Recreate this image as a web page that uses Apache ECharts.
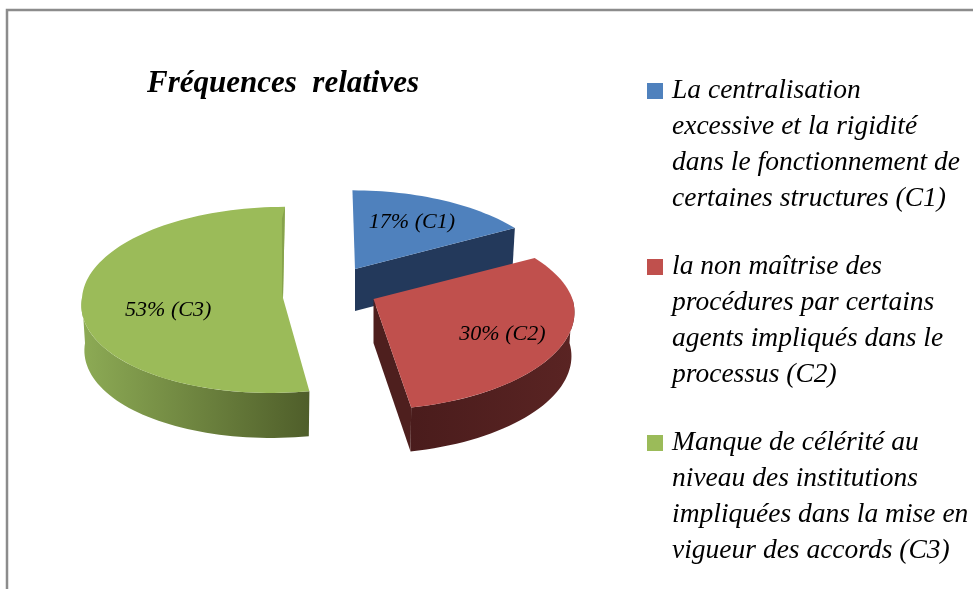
<!DOCTYPE html>
<html>
<head>
<meta charset="utf-8">
<style>
  html, body { margin: 0; padding: 0; background: #fff; }
  #chart { width: 973px; height: 589px; }
</style>
<script src="https://cdn.jsdelivr.net/npm/echarts@6/dist/echarts.min.js"></script>
</head>
<body>
<div id="chart"></div>
<script>
const titleText = "Fréquences  relatives";
const codes = ["C1", "C2", "C3"];
const percents = [17, 30, 53];
const legendLabels = [
  "La centralisation\nexcessive et la rigidité\ndans le fonctionnement de\ncertaines structures (C1)",
  "la non maîtrise des\nprocédures par certains\nagents impliqués dans le\nprocessus (C2)",
  "Manque de célérité au\nniveau des institutions\nimpliquées dans la mise en\nvigueur des accords (C3)"
];

const fontName = "Liberation Serif";
const topColors = ["#4f81bd", "#c0504d", "#9bbb59"];

// pie drawn by hand because echarts has no tilted pie without the gl extension
// each exploded slice has its own apex, the angles come from percents
const sliceLook = [
  {cx: 355, cy: 269, rx: 199, ry: 92, p: 0.17, lean: [-3, 0], depth: 42, labelAt: 0.63, labelDrop: -1,
    face: "#23395b", wall: ["#23395b", "#23395b"]},
  {cx: 373.5, cy: 299, rx: 199, ry: 92, p: 0.17, lean: [0, 6], depth: 44, labelAt: 0.69, labelDrop: 7,
    face: "#4e1f1e", wall: ["#5a2423", "#4a1c1c"]},
  {cx: 283, cy: 298, rx: 201, ry: 93, p: 0.02, lean: [2, 12], depth: 45, labelAt: 0.57, labelDrop: 7,
    face: "#87a34c", wall: ["#8dab55", "#4f5e2a"]}
];

function project(look, deg, frac, drop) {
  const a = deg * Math.PI / 180;
  const v = Math.cos(a) * frac;
  const w = 1 + look.p * v;
  const shrink = drop ? 0.985 : 1;
  const lean = v > 0 ? look.lean[0] : look.lean[1];
  return [
    look.cx + (look.rx * Math.sin(a) * frac * shrink + lean * v) / w,
    look.cy - look.ry * v / w + drop
  ];
}

function arcPoints(look, from, to, drop) {
  const pts = [];
  const n = Math.max(2, Math.ceil(Math.abs(to - from) / 2));
  for (let i = 0; i <= n; i++) {
    pts.push(project(look, from + (to - from) * i / n, 1, drop));
  }
  return pts;
}

function sliceItem(index) {
  return function (params, api) {
    const look = sliceLook[index];
    const total = percents.reduce((s, v) => s + v, 0);
    let start = 0;
    for (let i = 0; i < index; i++) start += percents[i] / total * 360;
    const end = start + api.value(0) / total * 360;
    const children = [];

    // outer wall, only the front half of the rim can be seen
    const wallFrom = Math.max(start, 90);
    const wallTo = Math.min(end, 270);
    if (wallTo > wallFrom) {
      const upper = arcPoints(look, wallFrom, wallTo, 0);
      const lower = arcPoints(look, wallFrom, wallTo, look.depth).reverse();
      children.push({
        type: "polygon",
        shape: {points: upper.concat(lower)},
        style: {
          fill: new echarts.graphic.LinearGradient(index === 2 ? 0 : 1, 0, index === 2 ? 1 : 0, 0, [
            {offset: 0, color: look.wall[0]},
            {offset: 1, color: look.wall[1]}
          ])
        }
      });
    }

    // cut face: end side for C1 and C2, the C3 one looks away from us
    if (index < 2) {
      const tip = project(look, end, 0, 0);
      const rim = project(look, end, 1, 0);
      const rimLow = project(look, end, 1, look.depth);
      const tipLow = project(look, end, 0, look.depth);
      children.push({
        type: "polygon",
        shape: {points: [tip, rim, rimLow, tipLow]},
        style: {fill: look.face}
      });
    }

    // top surface
    const top = arcPoints(look, start, end, 0);
    top.push(project(look, end, 0, 0));
    children.push({
      type: "polygon",
      shape: {points: top},
      style: {fill: topColors[index]}
    });

    // thin darker sliver along the back edge of C3
    if (index === 2) {
      const back = project(look, end, 1, 0);
      const tip = project(look, end, 0, 0);
      children.push({
        type: "polygon",
        shape: {points: [back, tip, [tip[0] - 1, tip[1] - 6], [back[0] - 3, back[1] + 12]]},
        style: {fill: look.face}
      });
    }

    const mid = project(look, (start + end) / 2, look.labelAt, 0);
    children.push({
      type: "text",
      style: {
        text: api.value(0) + "% (" + codes[index] + ")",
        x: mid[0],
        y: mid[1] + look.labelDrop,
        align: "center",
        verticalAlign: "middle",
        fill: "#000",
        font: "italic 22px '" + fontName + "'"
      }
    });
    return {type: "group", children: children};
  };
}

const chart = echarts.init(document.getElementById("chart"), null, {renderer: "canvas"});

const option = {
  animation: false,
  backgroundColor: "#fff",
  title: {
    text: titleText,
    left: 147,
    top: 68,
    padding: 0,
    textStyle: {
      fontFamily: fontName,
      fontStyle: "italic",
      fontWeight: "bold",
      fontSize: 31,
      color: "#000"
    }
  },
  // 3 blank lines above each entry keep the square level with its first line
  legend: {
    orient: "vertical",
    left: 647,
    top: -35,
    height: 800,
    padding: 0,
    icon: "rect",
    itemWidth: 16,
    itemHeight: 16,
    itemGap: -76,
    selectedMode: false,
    align: "left",
    data: legendLabels,
    formatter: name => "\n\n\n" + name,
    textStyle: {
      fontFamily: fontName,
      fontStyle: "italic",
      fontSize: 27.5,
      lineHeight: 36,
      color: "#000",
      padding: [0, 0, 0, 4]
    }
  },
  graphic: [{
    type: "polyline",
    silent: true,
    shape: {points: [[7, 589], [7, 10], [973, 10]]},
    style: {stroke: "#8c8c8c", lineWidth: 2.5, fill: null}
  }],
  series: percents.map((v, i) => ({
    type: "custom",
    name: legendLabels[i],
    coordinateSystem: "none",
    silent: true,
    itemStyle: {color: topColors[i]},
    renderItem: sliceItem(i),
    data: [[v]]
  }))
};

chart.setOption(option);
</script>
</body>
</html>
